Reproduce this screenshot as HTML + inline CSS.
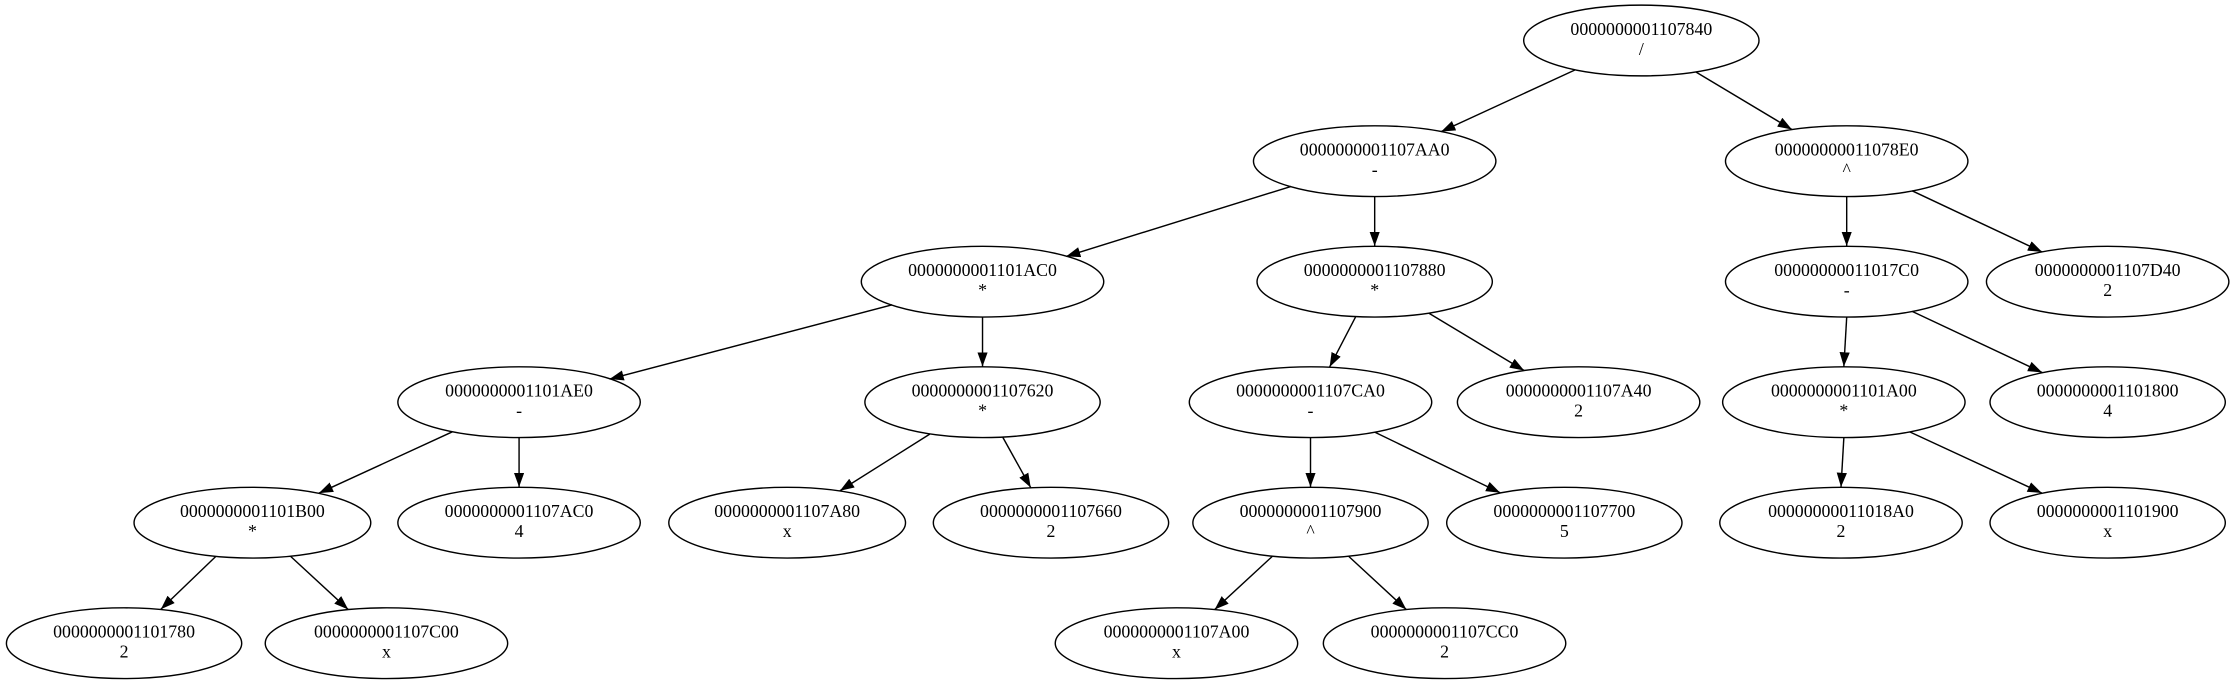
<!DOCTYPE html>
<html><head><meta charset="utf-8"><style>
html,body{margin:0;padding:0;background:#fff;}
svg{display:block;}
text{font-family:"Liberation Serif",serif;font-size:12.5px;fill:#000;text-anchor:middle;}
</style></head><body>
<svg width="2236" height="681" viewBox="0 0 1568 477.5" preserveAspectRatio="none" xmlns="http://www.w3.org/2000/svg">
<defs><marker id="a" markerUnits="userSpaceOnUse" markerWidth="12" markerHeight="10" refX="10" refY="3.6" orient="auto"><path d="M0,0 L10,3.6 L0,7.2 Z" fill="#000"/></marker></defs>
<g stroke="#000" stroke-width="1" fill="none" marker-end="url(#a)">
<line x1="1104.4" y1="49.1" x2="1010.6" y2="92.3"/>
<line x1="1189.4" y1="50.6" x2="1256.6" y2="90.8"/>
<line x1="905.4" y1="130.7" x2="747.6" y2="179.8"/>
<line x1="964" y1="138" x2="964" y2="172.5"/>
<line x1="1295" y1="138" x2="1295" y2="172.5"/>
<line x1="1340.9" y1="133.8" x2="1432.1" y2="176.7"/>
<line x1="625.6" y1="213.7" x2="427.4" y2="265.8"/>
<line x1="689" y1="222.5" x2="689" y2="257"/>
<line x1="950.6" y1="222.2" x2="932.4" y2="257.3"/>
<line x1="1002.2" y1="219.7" x2="1068.8" y2="259.8"/>
<line x1="1295" y1="222.5" x2="1293" y2="257"/>
<line x1="1340.9" y1="218.3" x2="1432.1" y2="261.2"/>
<line x1="317.4" y1="302.7" x2="223.6" y2="345.8"/>
<line x1="364" y1="307" x2="364" y2="341.5"/>
<line x1="652" y1="304.4" x2="589" y2="344.1"/>
<line x1="703.2" y1="306.6" x2="722.8" y2="341.9"/>
<line x1="919" y1="307" x2="919" y2="341.5"/>
<line x1="964" y1="303" x2="1052" y2="345.5"/>
<line x1="1293" y1="307" x2="1291" y2="341.5"/>
<line x1="1339.2" y1="302.8" x2="1431.8" y2="345.7"/>
<line x1="151.2" y1="390.3" x2="112.8" y2="427.2"/>
<line x1="203.8" y1="390.1" x2="244.2" y2="427.4"/>
<line x1="892.2" y1="390.1" x2="851.8" y2="427.4"/>
<line x1="945.8" y1="390.1" x2="986.2" y2="427.4"/>
</g>
<g stroke="#000" stroke-width="1" fill="none">
<ellipse cx="1151" cy="28.4" rx="82.5" ry="24.8"/>
<ellipse cx="964" cy="113" rx="85" ry="24.8"/>
<ellipse cx="1295" cy="113" rx="85" ry="24.8"/>
<ellipse cx="689" cy="197.5" rx="85" ry="24.8"/>
<ellipse cx="964" cy="197.5" rx="82.5" ry="24.8"/>
<ellipse cx="1295" cy="197.5" rx="85" ry="24.8"/>
<ellipse cx="1478" cy="197.5" rx="85" ry="24.8"/>
<ellipse cx="364" cy="282" rx="85" ry="24.8"/>
<ellipse cx="689" cy="282" rx="82.5" ry="24.8"/>
<ellipse cx="919" cy="282" rx="85" ry="24.8"/>
<ellipse cx="1107" cy="282" rx="85" ry="24.8"/>
<ellipse cx="1293" cy="282" rx="85" ry="24.8"/>
<ellipse cx="1478" cy="282" rx="82.5" ry="24.8"/>
<ellipse cx="177" cy="366.5" rx="83" ry="24.8"/>
<ellipse cx="364" cy="366.5" rx="85" ry="24.8"/>
<ellipse cx="552" cy="366.5" rx="83" ry="24.8"/>
<ellipse cx="737" cy="366.5" rx="82.5" ry="24.8"/>
<ellipse cx="919" cy="366.5" rx="82.5" ry="24.8"/>
<ellipse cx="1097" cy="366.5" rx="82.5" ry="24.8"/>
<ellipse cx="1291" cy="366.5" rx="85" ry="24.8"/>
<ellipse cx="1478" cy="366.5" rx="82.5" ry="24.8"/>
<ellipse cx="87" cy="451" rx="82.5" ry="24.8"/>
<ellipse cx="271" cy="451" rx="85" ry="24.8"/>
<ellipse cx="825" cy="451" rx="85" ry="24.8"/>
<ellipse cx="1013" cy="451" rx="85" ry="24.8"/>
</g>
<text x="1151" y="24.4">0000000001107840</text><text x="1151" y="38.4">/</text>
<text x="964" y="109">0000000001107AA0</text><text x="964" y="123">-</text>
<text x="1295" y="109">00000000011078E0</text><text x="1295" y="123">^</text>
<text x="689" y="193.5">0000000001101AC0</text><text x="689" y="207.5">*</text>
<text x="964" y="193.5">0000000001107880</text><text x="964" y="207.5">*</text>
<text x="1295" y="193.5">00000000011017C0</text><text x="1295" y="207.5">-</text>
<text x="1478" y="193.5">0000000001107D40</text><text x="1478" y="207.5">2</text>
<text x="364" y="278">0000000001101AE0</text><text x="364" y="292">-</text>
<text x="689" y="278">0000000001107620</text><text x="689" y="292">*</text>
<text x="919" y="278">0000000001107CA0</text><text x="919" y="292">-</text>
<text x="1107" y="278">0000000001107A40</text><text x="1107" y="292">2</text>
<text x="1293" y="278">0000000001101A00</text><text x="1293" y="292">*</text>
<text x="1478" y="278">0000000001101800</text><text x="1478" y="292">4</text>
<text x="177" y="362.5">0000000001101B00</text><text x="177" y="376.5">*</text>
<text x="364" y="362.5">0000000001107AC0</text><text x="364" y="376.5">4</text>
<text x="552" y="362.5">0000000001107A80</text><text x="552" y="376.5">x</text>
<text x="737" y="362.5">0000000001107660</text><text x="737" y="376.5">2</text>
<text x="919" y="362.5">0000000001107900</text><text x="919" y="376.5">^</text>
<text x="1097" y="362.5">0000000001107700</text><text x="1097" y="376.5">5</text>
<text x="1291" y="362.5">00000000011018A0</text><text x="1291" y="376.5">2</text>
<text x="1478" y="362.5">0000000001101900</text><text x="1478" y="376.5">x</text>
<text x="87" y="447">0000000001101780</text><text x="87" y="461">2</text>
<text x="271" y="447">0000000001107C00</text><text x="271" y="461">x</text>
<text x="825" y="447">0000000001107A00</text><text x="825" y="461">x</text>
<text x="1013" y="447">0000000001107CC0</text><text x="1013" y="461">2</text>
</svg>
</body></html>
